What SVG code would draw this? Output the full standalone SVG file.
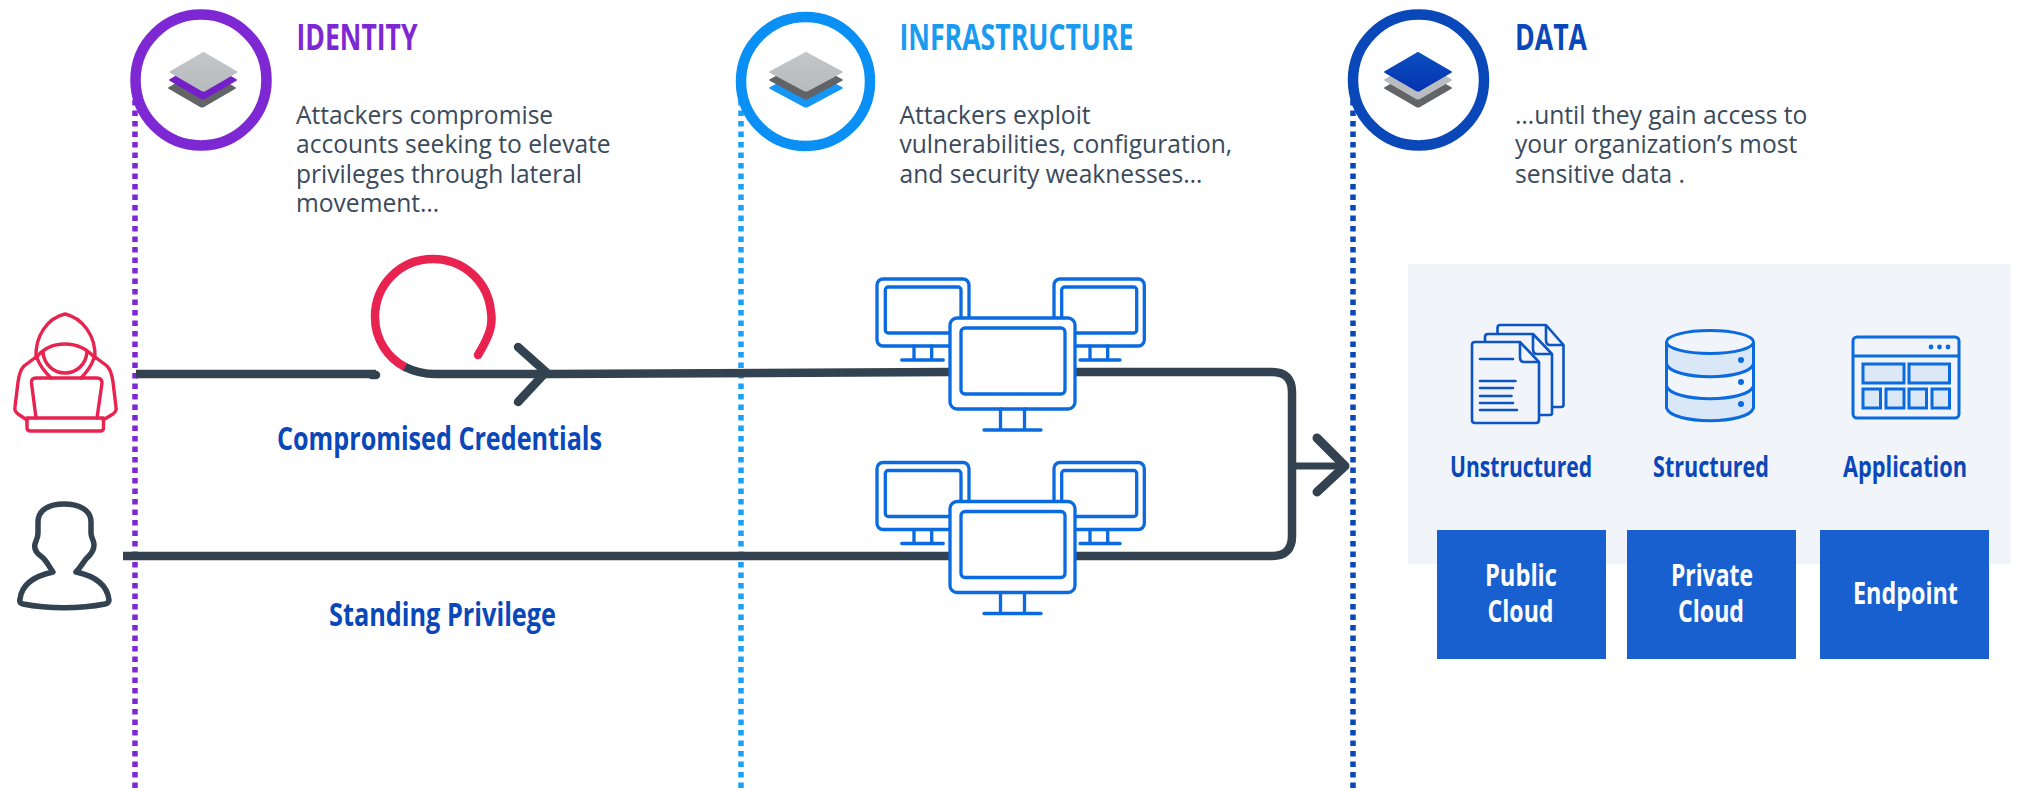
<svg xmlns="http://www.w3.org/2000/svg" width="2018" height="791" viewBox="0 0 2018 791">
<style>
text{font-family:"Open Sans","Liberation Sans",sans-serif}
.h{font-size:35px;font-weight:700}
.b{font-size:24.6px;fill:#3a4a5b}
.l{font-weight:700;fill:#0a47b8}
.w{font-size:30px;font-weight:700;fill:#fff}
.dot{fill:none;stroke-width:5.5;stroke-dasharray:5.5 5}
.wire{fill:none;stroke:#334250;stroke-width:8.5}
.round{stroke-linecap:round;stroke-linejoin:round}
.mon{fill:none;stroke:#0a6ae0;stroke-width:3.3;stroke-linecap:round}
.monf{fill:#fff;stroke:#0a6ae0;stroke-width:3.3}
.ico{fill:none;stroke:#0a6ae0;stroke-width:3}
.doc{fill:#f1f4f8;stroke:#0d55c4;stroke-width:2.6;stroke-linejoin:round}
.docl{stroke:#0d55c4;stroke-width:2.6;stroke-linecap:round}
.ring{fill:#fff;stroke-width:10.5}
</style>
<defs>
<path id="dia" d="M0-20 Q1-20 2-19 L33-1 Q35 0 33 1 L2 19 Q0 20-2 19 L-33 1 Q-35 0-33-1 L-2-19 Q-1-20 0-20Z"/>
<linearGradient id="gr" x1="0" y1="0" x2="0" y2="1"><stop offset="0" stop-color="#c4c6c9"/><stop offset="1" stop-color="#b7bbbe"/></linearGradient>
<linearGradient id="bl" x1="0" y1="0" x2="0" y2="1"><stop offset="0" stop-color="#0a4fc0"/><stop offset="1" stop-color="#0533b0"/></linearGradient>
<g id="monitor">
<rect class="mon" x="877" y="279" width="92" height="67" rx="6"/>
<rect class="mon" x="885.300" y="287" width="75.700" height="46" rx="3"/>
<path class="mon" d="M914 346V360M931.700 346V360M901.700 360H943.300"/>
<rect class="mon" x="1054" y="279" width="90.300" height="67" rx="6"/>
<rect class="mon" x="1061.700" y="287" width="75" height="46" rx="3"/>
<path class="mon" d="M1090 346V360M1107.700 346V360M1080 360H1120"/>
<rect class="monf" x="950" y="318" width="125" height="91" rx="7"/>
<rect class="monf" style="fill:none" x="961" y="328" width="104" height="66" rx="4"/>
<path class="mon" d="M1000.500 409V430M1024.500 409V430M984 430H1041"/>
</g>
</defs>

<rect id="panel" x="1408" y="264" width="603" height="300" fill="#f1f4f8"/>

<g id="guides">
<line class="dot" x1="135" y1="100" x2="135" y2="791" stroke="#7e28d4"/>
<line class="dot" x1="741" y1="100" x2="741" y2="791" stroke="#1aa0f5"/>
<line class="dot" x1="1353" y1="100" x2="1353" y2="791" stroke="#0a47b8"/>
</g>

<g id="connectors">
<path class="wire" d="M136 374H376" />
<path class="wire round" d="M372 375H376"/>
<path class="wire round" d="M478 355C490 335 493 325 491 312C488 280 462 259 433 259C400 259 375 285 375 317C375 340 388 358 405 367" style="stroke:#e8234f"/>
<path class="wire" d="M405 367C415 372 423 374 435 374H550L950 372"/>
<path class="wire round" d="M518 347L546 372L518 402"/>
<path class="wire" d="M1075 372H1272Q1292 372 1292 392V536Q1292 556 1272 556H1075"/>
<path class="wire" d="M123 556H950"/>
<path class="wire" d="M1292 466H1343" style="stroke-width:7"/>
<path class="wire round" d="M1317 438L1345 466L1317 492" style="stroke-width:9"/>
</g>

<g id="identity">
<circle class="ring" cx="201" cy="80" r="65.500" stroke="#7e28d4"/>
<use href="#dia" x="202" y="88" fill="#636467"/>
<use href="#dia" x="203" y="80" fill="#7420c8"/>
<use href="#dia" x="203.500" y="72" fill="url(#gr)"/>
<text class="h" x="296.500" y="50" fill="#7e28d4" textLength="121" lengthAdjust="spacingAndGlyphs">IDENTITY</text>
<text class="b" x="296" y="124">Attackers compromise</text>
<text class="b" x="296" y="153">accounts seeking to elevate</text>
<text class="b" x="296" y="183">privileges through lateral</text>
<text class="b" x="296" y="212">movement…</text>
</g>

<g id="infrastructure">
<circle class="ring" cx="805.500" cy="81.500" r="64.500" stroke="#0a90f5"/>
<use href="#dia" transform="translate(806 88) scale(1.085 1)" fill="#1696f5"/>
<use href="#dia" transform="translate(806 80) scale(1.085 1)" fill="#626367"/>
<use href="#dia" transform="translate(806 72) scale(1.085 1)" fill="url(#gr)"/>
<text class="h" x="899.500" y="50" fill="#1a9bf0" textLength="234" lengthAdjust="spacingAndGlyphs">INFRASTRUCTURE</text>
<text class="b" x="899.500" y="124">Attackers exploit</text>
<text class="b" x="899.500" y="153">vulnerabilities, configuration,</text>
<text class="b" x="899.500" y="183">and security weaknesses…</text>
</g>

<g id="data">
<circle class="ring" cx="1418.500" cy="80" r="65.500" stroke="#0a47b8"/>
<use href="#dia" x="1418" y="88" fill="#636467"/>
<use href="#dia" x="1418" y="80" fill="#b9bdc0"/>
<use href="#dia" x="1418" y="72" fill="url(#bl)"/>
<text class="h" x="1515" y="50" fill="#0a47b8" textLength="72" lengthAdjust="spacingAndGlyphs">DATA</text>
<text class="b" x="1515" y="124">…until they gain access to</text>
<text class="b" x="1515" y="153">your organization’s most</text>
<text class="b" x="1515" y="183">sensitive data .</text>
</g>

<g id="attacker" fill="none" stroke="#e8234f" stroke-width="3.400" stroke-linejoin="round" stroke-linecap="round">
<path d="M36 358C35 335 48 318 65 314C82 318 96 335 95 358"/>
<path d="M36 358C42 350 52 344 65 344C78 344 88 350 95 358"/>
<path d="M43 352C44 365 54 373 65 373C76 373 86 365 87 352"/>
<path d="M36 357L24 366C20 370 19 375 18 382L15 407Q14 411 18 414L27 420M95 357L107 366C111 370 112 375 113 382L116 407Q117 411 113 414L103 420"/>
<path d="M37 358C40 367 46 373 51 378M94 358C91 367 86 373 81 378"/>
<path d="M36 418L31.500 383Q31 378 36 378H97Q102 378 102 383L97 418"/>
<path d="M27 418H103.500V428Q103.500 431 100 431H31Q27 431 27 428Z"/>
</g>

<g id="user">
<path fill="none" stroke="#334250" stroke-width="5.500" stroke-linejoin="round" d="M53 572C48 565 46 560 42 557C36 553 34 548 35 544C36 540 38 538 38 533V522C38 510 49 504 64 504C79 504 91 510 91 522V533C91 538 94 540 94 545C94 550 91 554 88 557C84 560 82 566 76 572C90 575 107 582 109 600Q109 603 105 604C80 609 48 609 23 604Q19 603 20 599C22 582 39 575 53 572Z"/>
</g>

<text id="label-compromised" class="l" x="277" y="450" font-size="32" textLength="325" lengthAdjust="spacingAndGlyphs">Compromised Credentials</text>
<text id="label-standing" class="l" x="329" y="626" font-size="32" textLength="227" lengthAdjust="spacingAndGlyphs">Standing Privilege</text>

<g id="monitors-top"><use href="#monitor"/></g>
<g id="monitors-bottom"><use href="#monitor" y="183.500"/></g>

<g id="unstructured">
<path class="doc" d="M1497.500 337V328Q1497.500 325 1500 325H1546L1563.500 345V405Q1563.500 407 1561 407H1552"/>
<path class="doc" style="fill:none" d="M1546 325V340Q1546 345 1550 345H1563.500"/>
<path class="doc" d="M1485 342V337Q1485 334 1488 334H1533L1552 354V413Q1552 415 1550 415H1539"/>
<path class="doc" style="fill:none" d="M1533 334V349Q1533 354 1537 354H1552"/>
<path class="doc" d="M1475 342H1520L1539 362V420Q1539 423 1536 423H1475Q1472 423 1472 420V345Q1472 342 1475 342Z"/>
<path class="doc" style="fill:none" d="M1520 342V357Q1520 362 1524 362H1539"/>
<path class="docl" d="M1480 359H1513M1480 381H1515.500M1480 388H1513M1480 396H1511.500M1480 403H1513M1480 410H1517"/>
<text class="l" x="1450" y="477" font-size="28" textLength="142" lengthAdjust="spacingAndGlyphs">Unstructured</text>
</g>

<g id="structured">
<path d="M1666.500 342V365C1680 382 1740 382 1753.500 365V342C1740 358 1680 358 1666.500 342Z" fill="#d9e7f6"/>
<path d="M1666.500 387V408C1672 425 1748 425 1753.500 408V387C1740 403 1680 403 1666.500 387Z" fill="#d9e7f6"/>
<ellipse class="ico" cx="1710" cy="342" rx="43.500" ry="11.500" stroke-width="3.400"/>
<path class="ico" d="M1666.500 342V408C1672 425 1748 425 1753.500 408V342M1666.500 364C1672 381 1748 381 1753.500 364M1666.500 386C1672 403 1748 403 1753.500 386"/>
<circle cx="1741" cy="360" r="3" fill="#0a6ae0"/>
<circle cx="1741" cy="382" r="3" fill="#0a6ae0"/>
<circle cx="1741" cy="404" r="3" fill="#0a6ae0"/>
<text class="l" x="1653" y="477" font-size="28" textLength="116" lengthAdjust="spacingAndGlyphs">Structured</text>
</g>

<g id="application">
<rect class="ico" x="1853" y="337" width="106" height="81" rx="4"/>
<path class="ico" d="M1853 356H1959"/>
<circle cx="1931" cy="347" r="2.400" fill="#0a6ae0"/>
<circle cx="1939.500" cy="347" r="2.400" fill="#0a6ae0"/>
<circle cx="1948" cy="347" r="2.400" fill="#0a6ae0"/>
<g fill="#dce8f5" stroke="#0a6ae0" stroke-width="3">
<rect x="1863" y="364" width="41" height="19"/>
<rect x="1909" y="364" width="40.500" height="19"/>
<rect x="1863" y="389" width="17.500" height="19"/>
<rect x="1886" y="389" width="18" height="19"/>
<rect x="1909" y="389" width="17.500" height="19"/>
<rect x="1932" y="389" width="17.500" height="19"/>
</g>
<text class="l" x="1843" y="477" font-size="28" textLength="124" lengthAdjust="spacingAndGlyphs">Application</text>
</g>

<g id="public-cloud">
<rect x="1437" y="530" width="169" height="129" fill="#1860cf"/>
<text class="w" x="1485" y="586" textLength="72" lengthAdjust="spacingAndGlyphs">Public</text>
<text class="w" x="1487.500" y="622" textLength="66" lengthAdjust="spacingAndGlyphs">Cloud</text>
</g>
<g id="private-cloud">
<rect x="1627" y="530" width="169" height="129" fill="#1860cf"/>
<text class="w" x="1671" y="586" textLength="82" lengthAdjust="spacingAndGlyphs">Private</text>
<text class="w" x="1678" y="622" textLength="66" lengthAdjust="spacingAndGlyphs">Cloud</text>
</g>
<g id="endpoint">
<rect x="1820" y="530" width="169" height="129" fill="#1860cf"/>
<text class="w" x="1853" y="604" textLength="105" lengthAdjust="spacingAndGlyphs">Endpoint</text>
</g>
</svg>
